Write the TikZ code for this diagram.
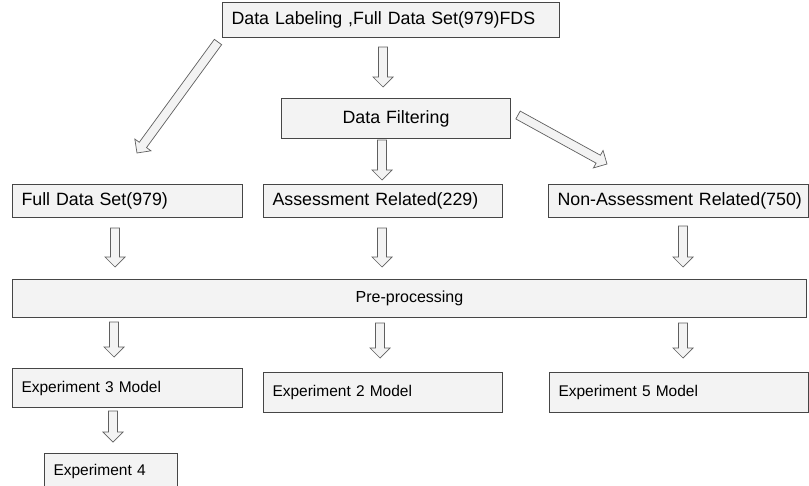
\documentclass[tikz,border=0pt]{standalone}
\usepackage{fontspec}
\setmainfont{Liberation Sans}
\usepackage{tikz}
\usetikzlibrary{calc}
\usetikzlibrary{positioning}

\definecolor{boxfill}{RGB}{243,243,243}
\definecolor{boxline}{RGB}{70,70,70}
\definecolor{arrowline}{RGB}{95,95,95}

% hollow block arrow from #1 to #2
\newcommand{\blkarrow}[2]{%
  \coordinate (hb) at ($(#2)!10pt!(#1)$);
  \draw [blockarrow] ($(#1)!4.5pt!90:(#2)$) -- ($(hb)!4.5pt!90:(#2)$) -- ($(hb)!10pt!90:(#2)$) -- (#2)
    -- ($(hb)!10pt!-90:(#2)$) -- ($(hb)!4.5pt!-90:(#2)$) -- ($(#1)!4.5pt!-90:(#2)$) -- cycle;}

\begin{document}
\begin{tikzpicture}[x=1pt, y=-1pt,
    stagebox/.style={rectangle, draw=boxline, fill=boxfill, line width=1pt, inner xsep=9pt, inner ysep=0pt, align=left, font=\fontsize{17.8}{20}\selectfont},
    expbox/.style={stagebox, font=\fontsize{15.5}{18}\selectfont},
    blockarrow/.style={draw=arrowline, fill=boxfill, line width=0.7pt, line join=miter}]
    \useasboundingbox (0,0) rectangle (809,485);

    \node [stagebox, anchor=north west, text width=319pt, minimum height=35pt] (labeling) at (222,2) {Data Labeling ,Full Data Set(979)FDS};
    \node [stagebox, text width=211pt, minimum height=40pt, align=center, below=60pt of labeling, xshift=5pt] (filtering) {Data Filtering};
    \node [stagebox, text width=221pt, minimum height=33pt, below=45pt of filtering.south west, anchor=north west, xshift=-18pt] (assess) {Assessment Related(229)};
    \node [stagebox, text width=212pt, minimum height=33pt, left=20pt of assess] (fullset) {Full Data Set(979)};
    \node [stagebox, text width=242pt, minimum height=33pt, right=45pt of assess] (nonassess) {\mbox{Non-Assessment Related(750)}};
    \node [stagebox, text width=776pt, minimum height=38pt, align=center, font=\fontsize{16}{19}\selectfont, below=61pt of fullset.south west, anchor=north west] (preproc) {Pre-processing};
    \node [expbox, text width=212pt, minimum height=39pt, below=50pt of preproc.south west, anchor=north west] (expthree) {Experiment 3 Model};
    \node [expbox, text width=221pt, minimum height=40pt, right=20pt of expthree, yshift=-4.5pt] (exptwo) {Experiment 2 Model};
    \node [expbox, text width=241pt, minimum height=40pt, right=46pt of exptwo] (expfive) {Experiment 5 Model};
    \node [expbox, text width=115pt, minimum height=35pt, below=45pt of expthree.south west, anchor=north west, xshift=32pt] (expfour) {Experiment 4};

    \coordinate (lab-s) at (383,47);    \coordinate (fil-n) at (383,87);
    \coordinate (lab-sw) at (218,42);   \coordinate (full-ne) at (137,153);
    \coordinate (fil-s) at (382,140);   \coordinate (ass-n) at (382,180);
    \coordinate (fil-e) at (518,115);   \coordinate (non-n) at (607,164);
    \coordinate (full-s) at (115,228);  \coordinate (pre-n1) at (115,267);
    \coordinate (ass-s) at (382,228);   \coordinate (pre-n2) at (382,267);
    \coordinate (non-s) at (683,226);   \coordinate (pre-n3) at (683,267);
    \coordinate (pre-s1) at (114,322);  \coordinate (ex3-n) at (114,357);
    \coordinate (pre-s2) at (380,323);  \coordinate (ex2-n) at (380,358);
    \coordinate (pre-s3) at (683,323);  \coordinate (ex5-n) at (683,358);
    \coordinate (ex3-s) at (113,411);   \coordinate (ex4-n) at (113,442);

    \blkarrow{lab-s}{fil-n}
    \blkarrow{lab-sw}{full-ne}
    \blkarrow{fil-s}{ass-n}
    \blkarrow{fil-e}{non-n}
    \blkarrow{full-s}{pre-n1}
    \blkarrow{ass-s}{pre-n2}
    \blkarrow{non-s}{pre-n3}
    \blkarrow{pre-s1}{ex3-n}
    \blkarrow{pre-s2}{ex2-n}
    \blkarrow{pre-s3}{ex5-n}
    \blkarrow{ex3-s}{ex4-n}
\end{tikzpicture}
\end{document}
